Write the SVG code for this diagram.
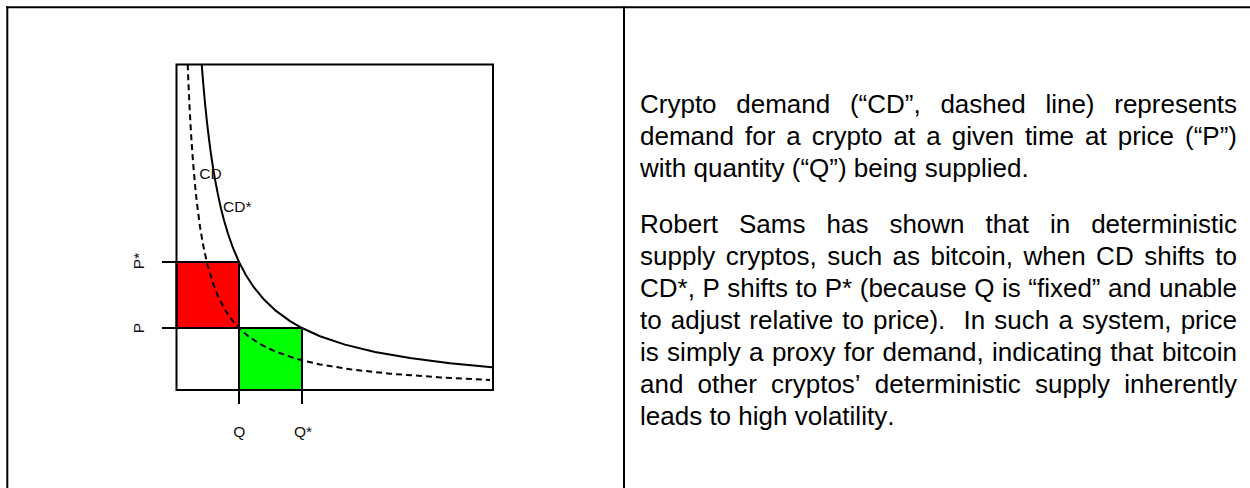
<svg xmlns="http://www.w3.org/2000/svg" width="1250" height="488" viewBox="0 0 1250 488">
<style>
.frame{stroke:#000;stroke-width:2;fill:none}
.ax{stroke:#000;stroke-width:2;fill:none}
.lbl{font-family:"Liberation Sans",Arial,sans-serif;font-size:15.5px;fill:#111}
.body{font-family:"Liberation Sans",Arial,sans-serif;font-size:26px;fill:#000;white-space:pre;font-kerning:none}
</style>
<rect x="0" y="0" width="1250" height="488" fill="#fff"/>
<g id="frame">
<line class="frame" x1="6.3" y1="7.3" x2="1250" y2="7.3"/>
<line class="frame" x1="7.3" y1="6.3" x2="7.3" y2="488"/>
<line class="frame" x1="624" y1="6.3" x2="624" y2="488"/>
</g>
<g id="chart">
<rect id="red-area" x="176.5" y="262" width="62.5" height="66" fill="#ff0000" stroke="#000" stroke-width="2"/>
<rect id="green-area" x="239" y="328" width="63" height="62" fill="#00ff00" stroke="#000" stroke-width="2"/>
<rect id="plot-box" class="ax" x="176.5" y="64.5" width="316.5" height="325.5"/>
<g id="ticks">
<line class="ax" x1="162" y1="262" x2="239" y2="262"/>
<line class="ax" x1="162" y1="328" x2="302" y2="328"/>
<line class="ax" x1="239" y1="262" x2="239" y2="404"/>
<line class="ax" x1="302" y1="328" x2="302" y2="404"/>
</g>
<polyline id="CD-star" fill="none" stroke="#000" stroke-width="2" points="201.7,64.3 203,80.7 205,103 207,122.3 209,139.2 211,154.2 213,167.4 215,179.3 218,194.9 221,208.4 224,220.2 228,233.8 233,248 239,262 246,275.3 254,287.5 264,299.6 276,310.9 290,321.1 302,328 320,336.2 345,344.6 375,351.9 410,358.1 450,363.2 492,367.2"/>
<polyline id="CD" fill="none" stroke="#000" stroke-width="2" stroke-dasharray="6 4" points="187.7,64.3 188.5,84.5 189.5,105.8 190.5,124.3 191.5,140.6 193,161.7 195,184.8 197,203.7 200,226.5 203,244.3 207,262.9 212,280.5 218,296.2 225,309.8 233,321.3 239,328 248,336 260,344.1 275,351.4 295,358.4 302,360.3 320,364.4 350,369.3 390,373.7 440,377.4 490,379.9"/>
<text class="lbl" x="199.3" y="179.3">CD</text>
<text class="lbl" x="223" y="211.7">CD*</text>
<text class="lbl" x="239.3" y="437.3" text-anchor="middle">Q</text>
<text class="lbl" x="294" y="437.3">Q*</text>
<text class="lbl" transform="translate(144,261) rotate(-90)" text-anchor="middle">P*</text>
<text class="lbl" transform="translate(144,328) rotate(-90)" text-anchor="middle">P</text>
</g>
<g id="description">
<text class="body" x="640" y="113" word-spacing="12.48">Crypto demand (“CD”, dashed line) represents</text>
<text class="body" x="640" y="145" word-spacing="3.78">demand for a crypto at a given time at price (“P”)</text>
<text class="body" x="640" y="177">with quantity (“Q”) being supplied.</text>
<text class="body" x="640" y="233.3" word-spacing="13.77">Robert Sams has shown that in deterministic</text>
<text class="body" x="640" y="265.3" word-spacing="3.28">supply cryptos, such as bitcoin, when CD shifts to</text>
<text class="body" x="640" y="297.3" word-spacing="0.31">CD*, P shifts to P* (because Q is “fixed” and unable</text>
<text class="body" x="640" y="329.3" word-spacing="1.9" xml:space="preserve">to adjust relative to price).  In such a system, price</text>
<text class="body" x="640" y="361.3" word-spacing="1.11">is simply a proxy for demand, indicating that bitcoin</text>
<text class="body" x="640" y="393.3" word-spacing="6.98">and other cryptos’ deterministic supply inherently</text>
<text class="body" x="640" y="425.3">leads to high volatility.</text>
</g>
</svg>
